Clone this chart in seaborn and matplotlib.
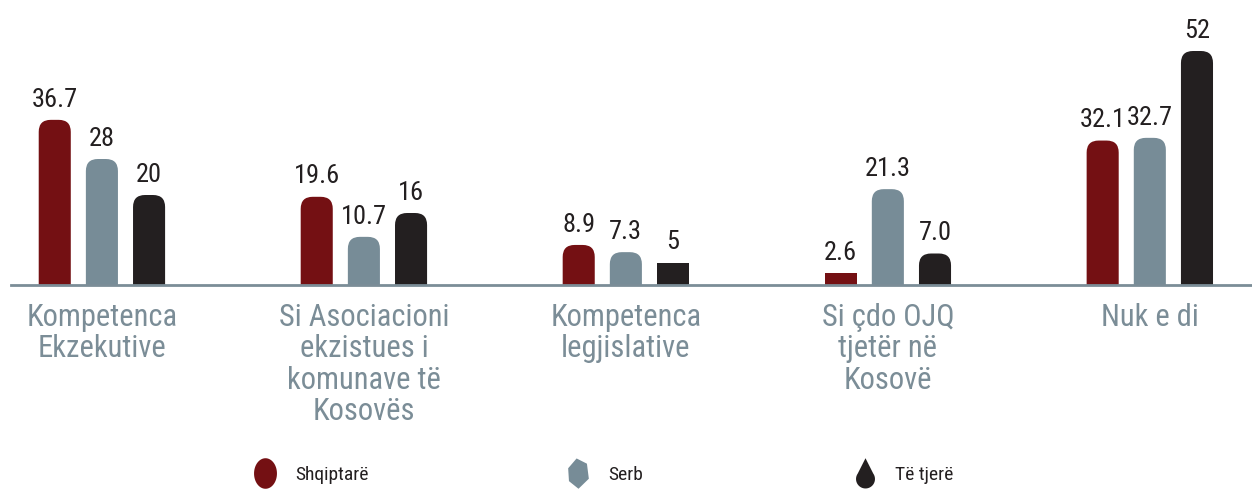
# Grouped bar chart with rounded bar tops: answers by community

import numpy as np
import pandas as pd
import matplotlib
matplotlib.use("Agg")
import matplotlib.pyplot as plt
import seaborn as sns
from matplotlib.patches import FancyBboxPatch
from matplotlib.lines import Line2D
from matplotlib.path import Path
from matplotlib import font_manager

# Data
categories = ["Kompetenca\nEkzekutive",
              "Si Asociacioni\nekzistues i\nkomunave të\nKosovës",
              "Kompetenca\nlegjislative",
              "Si çdo OJQ\ntjetër në\nKosovë",
              "Nuk e di"]
groups = ["Shqiptarë", "Serb", "Të tjerë"]
shqiptare = [36.7, 19.6, 8.9, 2.6, 32.1]
serb = [28, 10.7, 7.3, 21.3, 32.7]
te_tjere = [20, 16, 5, 7.0, 52]
shqiptare_lbl = ["36.7", "19.6", "8.9", "2.6", "32.1"]
serb_lbl = ["28", "10.7", "7.3", "21.3", "32.7"]
te_tjere_lbl = ["20", "16", "5", "7.0", "52"]

colors = {"Shqiptarë": "#741013", "Serb": "#778c97", "Të tjerë": "#231f20"}
axis_grey = "#7b8d97"
text_dark = "#231f20"

# Long-form table for seaborn
df = pd.DataFrame({
    "kategoria": categories * 3,
    "grupi": [g for g in groups for _ in categories],
    "vlera": shqiptare + serb + te_tjere,
})
labels = [shqiptare_lbl, serb_lbl, te_tjere_lbl]

# pick a condensed font, like the one in the reference
installed = {f.name for f in font_manager.fontManager.ttflist}
narrow = None
for name in ["Roboto Condensed", "Archivo Narrow", "PT Sans Narrow", "Liberation Sans Narrow",
             "Arial Narrow", "Pragati Narrow", "Encode Sans Condensed", "Barlow Condensed"]:
    if name in installed:
        narrow = name
        break
stretch = "normal"
if narrow is None:
    narrow = "Open Sans"
    stretch = "condensed"

sns.set_style("white")
plt.rcParams['font.family'] = [narrow, 'DejaVu Sans']
plt.rcParams['font.stretch'] = stretch

W, H, DPI = 1252, 492, 100
fig, ax = plt.subplots(figsize=(W / DPI, H / DPI), dpi=DPI)
fig.subplots_adjust(left=11 / W, right=1.0, bottom=207 / H, top=1.0)

sns.barplot(data=df, x="kategoria", y="vlera", hue="grupi", order=categories,
            hue_order=groups, palette=colors, width=0.54, gap=0.32,
            legend=False, ax=ax, saturation=1)

ymax = 285 / 4.5
ax.set_ylim(0, ymax)
ax.set_xlim(-0.347, 4.39)

# pixel scale, used to make round corners look circular
ax_w_px = W * (1.0 - 11 / W)
ax_h_px = H * (1.0 - 207 / H)
x_per_px = (4.39 + 0.347) / ax_w_px
y_per_px = ymax / ax_h_px

# Replace the plain rectangles with rounded-top bars
for cont, lbls, g in zip(ax.containers, labels, groups):
    for bar, lbl in zip(cont, lbls):
        x0, w, h = bar.get_x(), bar.get_width(), bar.get_height()
        bar.set_visible(False)
        rx = 12 * x_per_px
        ry = 12 * y_per_px
        if h > 2.2 * ry:
            patch = FancyBboxPatch((x0, -ry), w, h + ry,
                                   boxstyle=f"round,pad=0,rounding_size={rx}",
                                   mutation_aspect=ry / rx,
                                   fc=colors[g], ec="none", zorder=2)
        else:
            patch = plt.Rectangle((x0, 0), w, h, fc=colors[g], ec="none", zorder=2)
        ax.add_patch(patch)
        ax.annotate(lbl, (x0 + w / 2, h), xytext=(0, 6), textcoords="offset points",
                    ha="center", va="bottom", fontsize=19, color=text_dark,
                    fontweight="normal")

# Axis styling
for s in ["top", "right", "left"]:
    ax.spines[s].set_visible(False)
ax.spines["bottom"].set_color(axis_grey)
ax.spines["bottom"].set_linewidth(2)
ax.spines["bottom"].set_zorder(3)
ax.set_xlabel("")
ax.set_ylabel("")
ax.set_yticks([])
ax.tick_params(axis="x", length=0, pad=13, labelsize=22, labelcolor=axis_grey)
for t in ax.get_xticklabels():
    t.set_linespacing(1.1)
    t.set_fontweight("normal")

# Legend with the odd shaped markers, one small legend per group
ang = np.linspace(0, 2 * np.pi, 60)
ellipse = Path(list(zip(0.75 * np.cos(ang), np.sin(ang))))
hexa = np.radians([100, 40, -20, -90, -150, 160, 100])
hexagon = Path(list(zip(0.72 * np.cos(hexa), np.sin(hexa))))
arc = np.linspace(np.radians(35), np.radians(-215), 50)
drop = [(0.0, 1.0)] + [(0.62 * np.cos(a), 0.62 * np.sin(a) - 0.36) for a in arc] + [(0.0, 1.0)]
drop_marker = Path(drop)
markers = [ellipse, hexagon, drop_marker]
legend_left = [253, 566, 853]
for m, g, lx in zip(markers, groups, legend_left):
    hnd = Line2D([], [], ls="none", marker=m, markersize=22, markerfacecolor=colors[g],
                 markeredgecolor="none")
    fig.legend([hnd], [g], loc="center left", bbox_to_anchor=(lx / W, 0.034),
               frameon=False, fontsize=14, handlelength=1.2, handletextpad=0.95,
               borderpad=0, borderaxespad=0, labelcolor=text_dark)

plt.savefig("out.png", dpi=DPI)
